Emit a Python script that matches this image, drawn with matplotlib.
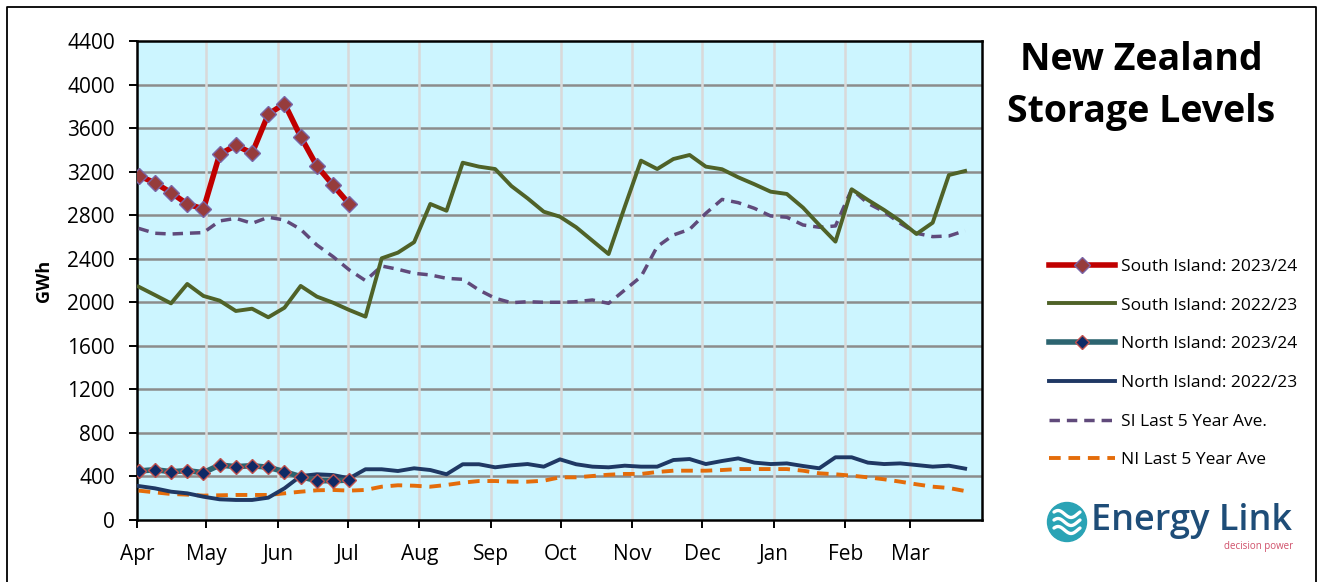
import numpy as np
import matplotlib
matplotlib.use("Agg")
import matplotlib.pyplot as plt
from matplotlib.patches import Circle
from matplotlib.lines import Line2D

plt.rcParams['font.family'] = ['Open Sans', 'DejaVu Sans']

months = ["Apr", "May", "Jun", "Jul", "Aug", "Sep", "Oct", "Nov", "Dec", "Jan", "Feb", "Mar"]
month_days = [30, 31, 30, 31, 31, 30, 31, 30, 31, 31, 28, 31]
yticks = [0, 400, 800, 1200, 1600, 2000, 2400, 2800, 3200, 3600, 4000, 4400]

si_2324 = [3163, 3098, 3007, 2903, 2857, 3359, 3442, 3369, 3727, 3825, 3521, 3252, 3075, 2903]
si_2223 = [2143, 2067, 1990, 2168, 2058, 2015, 1920, 1941, 1862, 1950, 2150, 2052, 1996, 1929,
           1868, 2404, 2456, 2552, 2903, 2841, 3282, 3246, 3224, 3068, 2955, 2832, 2786, 2689,
           2566, 2443, 2878, 3301, 3224, 3316, 3353, 3246, 3222, 3148, 3084, 3016, 2995, 2869,
           2710, 2557, 3038, 2940, 2848, 2747, 2627, 2731, 3169, 3206]
ni_2324 = [450, 462, 444, 453, 435, 505, 490, 499, 484, 444, 398, 361, 361, 367]
ni_2223 = [312, 291, 260, 245, 214, 190, 184, 184, 205, 291, 404, 420, 413, 383, 466, 466,
           450, 475, 459, 420, 512, 512, 484, 502, 514, 490, 557, 512, 490, 484, 499, 490,
           490, 551, 560, 514, 542, 566, 527, 514, 520, 496, 475, 576, 576, 527, 514, 520,
           505, 490, 499, 472]
si_avg = [2679, 2634, 2627, 2634, 2640, 2747, 2771, 2725, 2781, 2756, 2670, 2526, 2419, 2297,
          2199, 2333, 2303, 2266, 2251, 2220, 2211, 2113, 2037, 1996, 2005, 2000, 2000, 2005,
          2021, 1990, 2113, 2235, 2511, 2618, 2670, 2817, 2945, 2915, 2863, 2793, 2781, 2710,
          2689, 2701, 3038, 2909, 2832, 2725, 2634, 2603, 2609, 2658]
ni_avg = [270, 254, 239, 233, 224, 227, 230, 230, 230, 245, 260, 273, 276, 270, 276, 306,
          319, 315, 306, 322, 343, 358, 358, 352, 352, 361, 392, 392, 404, 416, 423, 423,
          441, 453, 453, 453, 459, 468, 468, 468, 468, 453, 429, 420, 407, 392, 374, 352,
          328, 306, 294, 266]

def week_days(n):
    return np.arange(n) * 7 + 0.7

month_starts = np.concatenate([[0], np.cumsum(month_days)[:-1]])
year_len = sum(month_days)

W, H = 1320, 582
fig = plt.figure(figsize=(W / 100, H / 100), dpi=100)
fig.patch.set_facecolor("white")
# outer frame (left, top, right)
fig.add_artist(Line2D([7 / W, 7 / W, 1316 / W, 1316 / W], [0, 1 - 7 / H, 1 - 7 / H, 0],
                      transform=fig.transFigure, color="black", linewidth=1.3))

ax = fig.add_axes([137 / W, 1 - 520 / H, (982 - 137) / W, (520 - 41) / H])
ax.set_facecolor("#CCF5FF")
ax.set_xlim(0, year_len)
ax.set_ylim(0, 4400)
ax.set_yticks(yticks)
ax.set_yticklabels([str(v) for v in yticks], fontsize=15)
ax.set_xticks(month_starts)
ax.set_xticklabels(months, fontsize=15)
ax.tick_params(axis="y", direction="out", length=6, width=1.4, pad=10)
ax.tick_params(axis="x", direction="out", length=6, width=1.4, pad=11.5)
for y in yticks[1:-1]:
    ax.axhline(y, color="#8C8C8C", linewidth=1.8, zorder=1)
for x in month_starts[1:]:
    ax.axvline(x, color="#D9D9D9", linewidth=1.8, zorder=1)
for s in ["left", "bottom", "right", "top"]:
    ax.spines[s].set_color("black")
    ax.spines[s].set_linewidth(1.8)
ax.set_ylabel("GWh", fontsize=13, fontweight="bold")
ax.yaxis.set_label_coords(-0.099, 0.5)

l1, = ax.plot(week_days(len(si_2324)), si_2324, color="#C00000", linewidth=4.0,
              marker="D", markersize=8, markerfacecolor="#963C3C", markeredgecolor="#7A64A6",
              markeredgewidth=1.0, zorder=5, label="South Island: 2023/24")
l2, = ax.plot(week_days(len(si_2223)), si_2223, color="#4F6228", linewidth=2.8, zorder=4,
              label="South Island: 2022/23")
l3, = ax.plot(week_days(len(ni_2324)), ni_2324, color="#2C6470", linewidth=4.0,
              marker="D", markersize=7, markerfacecolor="#0E2A66", markeredgecolor="#C0504D",
              markeredgewidth=1.0, zorder=5, label="North Island: 2023/24")
l4, = ax.plot(week_days(len(ni_2223)), ni_2223, color="#1F3864", linewidth=2.8, zorder=4,
              label="North Island: 2022/23")
l5, = ax.plot(week_days(len(si_avg)), si_avg, color="#604A7B", linewidth=2.5,
              linestyle=(0, (3, 2)), zorder=3, label="SI Last 5 Year Ave.")
l6, = ax.plot(week_days(len(ni_avg)), ni_avg, color="#E46C0A", linewidth=2.8,
              linestyle=(0, (3, 2)), zorder=3, label="NI Last 5 Year Ave")

fig.legend(handles=[l1, l2, l3, l4, l5, l6], loc="upper left",
           bbox_to_anchor=(1040 / W, 1 - 250 / H), frameon=False, fontsize=12.5,
           handlelength=3.8, handletextpad=0.35, labelspacing=1.3, borderpad=0)

fig.text(1141 / W, 1 - 60 / H, "New Zealand", ha="center", va="center",
         fontsize=27, fontweight="bold")
fig.text(1141 / W, 1 - 112 / H, "Storage Levels", ha="center", va="center",
         fontsize=27, fontweight="bold")

# logo (1 data unit = 1 pixel)
lax = fig.add_axes([1040 / W, 1 - 565 / H, 275 / W, 70 / H])
lax.set_xlim(0, 275)
lax.set_ylim(0, 70)
lax.axis("off")
lax.add_patch(Circle((27, 43), 19.5, color="#2AA3B5"))
for dy in (-8, 0, 8):
    xs = np.linspace(14, 40, 30)
    lax.plot(xs, 43 + dy + 3.5 * np.sin((xs - 14) / 26 * 2 * np.pi + 0.6), color="white",
             linewidth=2.4, solid_capstyle="round")
lax.text(51, 44, "Energy Link", fontsize=26, color="#1E4D78", va="center", ha="left",
         fontweight="semibold")
lax.text(253, 19, "decision power", fontsize=7, color="#D0506A", va="center", ha="right")

fig.savefig("out.png", dpi=100)
